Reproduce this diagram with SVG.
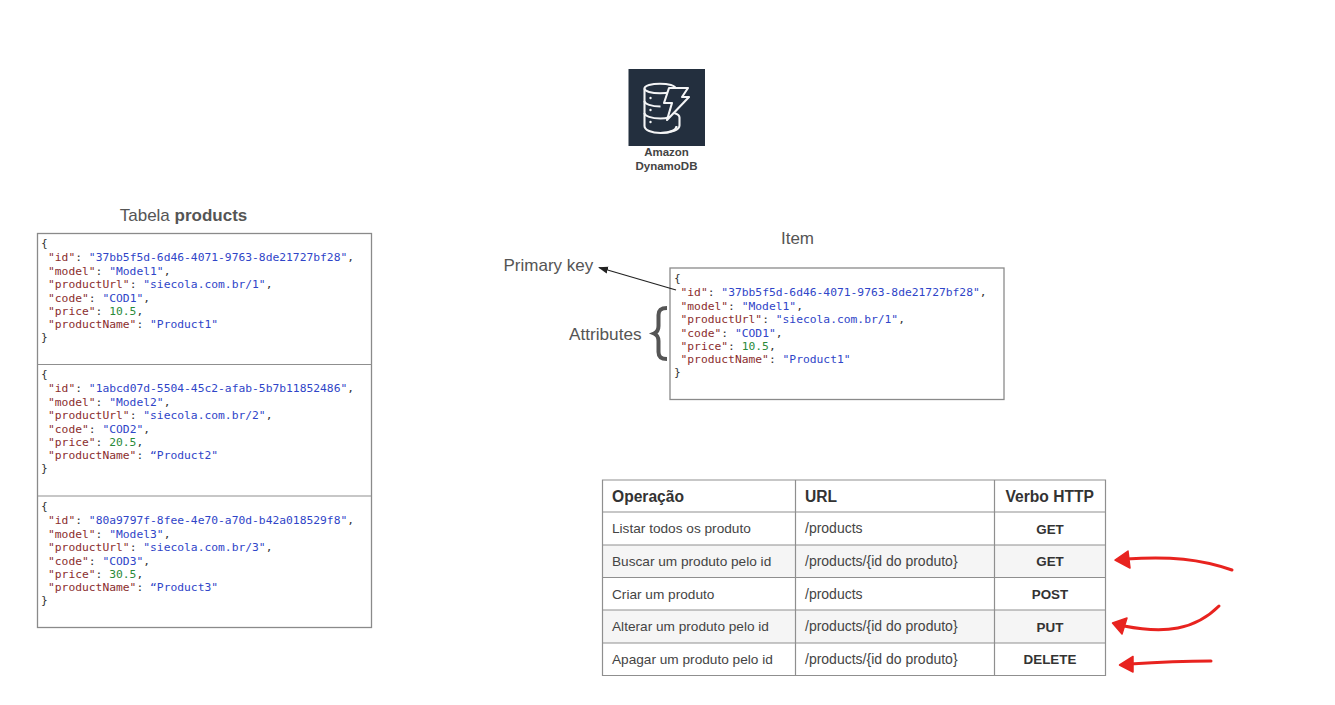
<svg xmlns="http://www.w3.org/2000/svg" width="1335" height="705" viewBox="0 0 1335 705">
<style>
.m{font:11.3px "DejaVu Sans Mono",monospace;white-space:pre;fill:#333}
.k{fill:#8b2e2e}.s{fill:#2f45c8}.n{fill:#2a8a3a}
.box{fill:#fff;stroke:#8a8a8a;stroke-width:1.3}
.lbl{font:17px "Liberation Sans",Arial,sans-serif;fill:#555}
.hd{font:bold 15.600px "Liberation Sans",Arial,sans-serif;fill:#333}
.td{font:13.650px "Liberation Sans",Arial,sans-serif;fill:#444}
.url{font-size:14px}
.vb{font:bold 13.400px "Liberation Sans",Arial,sans-serif;fill:#333;text-anchor:middle}
.grid{stroke:#8f8f8f;stroke-width:1.2;fill:none}
.red{fill:none;stroke:#e8231f;stroke-width:3;stroke-linecap:round}
.redh{fill:#e8231f;stroke:#e8231f;stroke-width:1.500;stroke-linejoin:round}
</style>
<defs>
<marker id="ah" markerUnits="userSpaceOnUse" markerWidth="10" markerHeight="8" refX="9" refY="4" orient="auto"><path d="M0 0.500L10 4L0 7.500z" fill="#222"/></marker>
</defs>

<g id="dynamodb">
<rect x="628.500" y="69" width="76.500" height="77" fill="#232f3e"/>
<g fill="none" stroke="#f4f5f6" stroke-width="2.100" stroke-linejoin="round">
<ellipse cx="660" cy="88.500" rx="15.500" ry="4.800"/>
<path d="M644.500 88.500V126c0 4 7 7 16 7s16-3 16-7"/>
<path d="M644.500 101c0 3 7 5.500 16 5.500M644.500 113c0 3 7 5.500 16 5.500c3 0 6-.3 8-1"/>
<path d="M674 113c3.500 1 5.500 2.500 5.500 4.500v8c0 4-8 7.500-19 7.500"/>
<path d="M669 88H688L682 97H689L667 120L672 103H664Z" fill="#232f3e"/>
</g>
<circle cx="650.500" cy="98" r="1.200" fill="#f4f5f6"/>
<circle cx="650.500" cy="110" r="1.200" fill="#f4f5f6"/>
<circle cx="650.500" cy="122" r="1.200" fill="#f4f5f6"/>
<text x="666.500" y="156" text-anchor="middle" style="font:bold 11.500px 'Liberation Sans',Arial,sans-serif;fill:#444">Amazon</text>
<text x="666.500" y="170" text-anchor="middle" style="font:bold 11.500px 'Liberation Sans',Arial,sans-serif;fill:#444">DynamoDB</text>
</g>

<g id="table-products">
<text x="183.500" y="221" text-anchor="middle" class="lbl">Tabela <tspan font-weight="bold">products</tspan></text>
<rect class="box" x="37.500" y="233.500" width="334" height="394"/>
<path class="grid" d="M37.500 364.500H371.500M37.500 496H371.500"/>
<g class="m">
<text class="m" x="41" y="247">{</text>
<text class="m" x="48" y="261"><tspan class="k">"id"</tspan>: <tspan class="s">"37bb5f5d-6d46-4071-9763-8de21727bf28"</tspan>,</text>
<text class="m" x="48" y="274.500"><tspan class="k">"model"</tspan>: <tspan class="s">"Model1"</tspan>,</text>
<text class="m" x="48" y="288"><tspan class="k">"productUrl"</tspan>: <tspan class="s">"siecola.com.br/1"</tspan>,</text>
<text class="m" x="48" y="301.500"><tspan class="k">"code"</tspan>: <tspan class="s">"COD1"</tspan>,</text>
<text class="m" x="48" y="315"><tspan class="k">"price"</tspan>: <tspan class="n">10.5</tspan>,</text>
<text class="m" x="48" y="328"><tspan class="k">"productName"</tspan>: <tspan class="s">"Product1"</tspan></text>
<text class="m" x="41" y="341">}</text>

<text class="m" x="41" y="378">{</text>
<text class="m" x="48" y="392"><tspan class="k">"id"</tspan>: <tspan class="s">"1abcd07d-5504-45c2-afab-5b7b11852486"</tspan>,</text>
<text class="m" x="48" y="405.500"><tspan class="k">"model"</tspan>: <tspan class="s">"Model2"</tspan>,</text>
<text class="m" x="48" y="419"><tspan class="k">"productUrl"</tspan>: <tspan class="s">"siecola.com.br/2"</tspan>,</text>
<text class="m" x="48" y="432.500"><tspan class="k">"code"</tspan>: <tspan class="s">"COD2"</tspan>,</text>
<text class="m" x="48" y="446"><tspan class="k">"price"</tspan>: <tspan class="n">20.5</tspan>,</text>
<text class="m" x="48" y="459"><tspan class="k">"productName"</tspan>: <tspan class="s">“Product2"</tspan></text>
<text class="m" x="41" y="472">}</text>

<text class="m" x="41" y="510">{</text>
<text class="m" x="48" y="524"><tspan class="k">"id"</tspan>: <tspan class="s">"80a9797f-8fee-4e70-a70d-b42a018529f8"</tspan>,</text>
<text class="m" x="48" y="537.500"><tspan class="k">"model"</tspan>: <tspan class="s">"Model3"</tspan>,</text>
<text class="m" x="48" y="551"><tspan class="k">"productUrl"</tspan>: <tspan class="s">"siecola.com.br/3"</tspan>,</text>
<text class="m" x="48" y="564.500"><tspan class="k">"code"</tspan>: <tspan class="s">"COD3"</tspan>,</text>
<text class="m" x="48" y="578"><tspan class="k">"price"</tspan>: <tspan class="n">30.5</tspan>,</text>
<text class="m" x="48" y="591"><tspan class="k">"productName"</tspan>: <tspan class="s">“Product3"</tspan></text>
<text class="m" x="41" y="604">}</text>
</g>
</g>

<g id="item">
<text x="797.500" y="244" text-anchor="middle" class="lbl">Item</text>
<rect class="box" x="670" y="268" width="334" height="131.500"/>
<text class="m" x="674" y="282">{</text>
<text class="m" x="680.500" y="296"><tspan class="k">"id"</tspan>: <tspan class="s">"37bb5f5d-6d46-4071-9763-8de21727bf28"</tspan>,</text>
<text class="m" x="680.500" y="309.500"><tspan class="k">"model"</tspan>: <tspan class="s">"Model1"</tspan>,</text>
<text class="m" x="680.500" y="323"><tspan class="k">"productUrl"</tspan>: <tspan class="s">"siecola.com.br/1"</tspan>,</text>
<text class="m" x="680.500" y="336.500"><tspan class="k">"code"</tspan>: <tspan class="s">"COD1"</tspan>,</text>
<text class="m" x="680.500" y="350"><tspan class="k">"price"</tspan>: <tspan class="n">10.5</tspan>,</text>
<text class="m" x="680.500" y="363"><tspan class="k">"productName"</tspan>: <tspan class="s">"Product1"</tspan></text>
<text class="m" x="674" y="376">}</text>
</g>

<g id="primary-key"><text x="503.500" y="270.500" class="lbl">Primary key</text></g>
<g id="attributes">
<text x="569" y="340" class="lbl" style="font-size:17.200px">Attributes</text>
<path d="M667 308c-6 0-8.500 2-8.500 7v11c0 4-1 6-4.500 7.500c3.500 1.500 4.500 3.500 4.500 7.500v11c0 5 2.500 7 8.500 7" fill="none" stroke="#555" stroke-width="4"/>
</g>

<g id="connectors">
<path d="M676 290L599 267.500" stroke="#222" stroke-width="1.200" fill="none" marker-end="url(#ah)"/>
</g>

<g id="table-operations">
<rect x="602.500" y="480" width="503" height="195.500" fill="#fff"/>
<rect x="602.500" y="545" width="503" height="32.500" fill="#f5f5f5"/>
<rect x="602.500" y="610" width="503" height="33" fill="#f5f5f5"/>
<path class="grid" d="M602.500 480H1105.500V675.500H602.500ZM602.500 512H1105.500M602.500 545H1105.500M602.500 577.500H1105.500M602.500 610H1105.500M602.500 643H1105.500M795.500 480V675.500M994.500 480V675.500"/>
<text class="hd" x="612" y="502">Operação</text>
<text class="hd" x="805" y="502">URL</text>
<text class="hd" x="1005.500" y="502">Verbo HTTP</text>
<text class="td" x="612" y="533">Listar todos os produto</text>
<text class="td url" x="805" y="533">/products</text>
<text class="vb" x="1050" y="534">GET</text>
<text class="td" x="612" y="566">Buscar um produto pelo id</text>
<text class="td url" x="805" y="566">/products/{id do produto}</text>
<text class="vb" x="1050" y="566">GET</text>
<text class="td" x="612" y="599">Criar um produto</text>
<text class="td url" x="805" y="599">/products</text>
<text class="vb" x="1050" y="599">POST</text>
<text class="td" x="612" y="631">Alterar um produto pelo id</text>
<text class="td url" x="805" y="631">/products/{id do produto}</text>
<text class="vb" x="1050" y="632">PUT</text>
<text class="td" x="612" y="664">Apagar um produto pelo id</text>
<text class="td url" x="805" y="664">/products/{id do produto}</text>
<text class="vb" x="1050" y="664">DELETE</text>
</g>

<g id="red-arrows">
<path class="red" d="M1232 570C1200 559 1170 556 1126 559"/>
<path class="redh" d="M1115 560L1128 551L1130 568z"/>
<path class="red" d="M1219 606C1195 630 1165 634 1124 626"/>
<path class="redh" d="M1112.500 623L1127 618L1122 634z"/>
<path class="red" d="M1211 661C1185 661 1160 662 1130 664"/>
<path class="redh" d="M1119.500 665L1133 656.500L1133 672z"/>
</g>
</svg>
